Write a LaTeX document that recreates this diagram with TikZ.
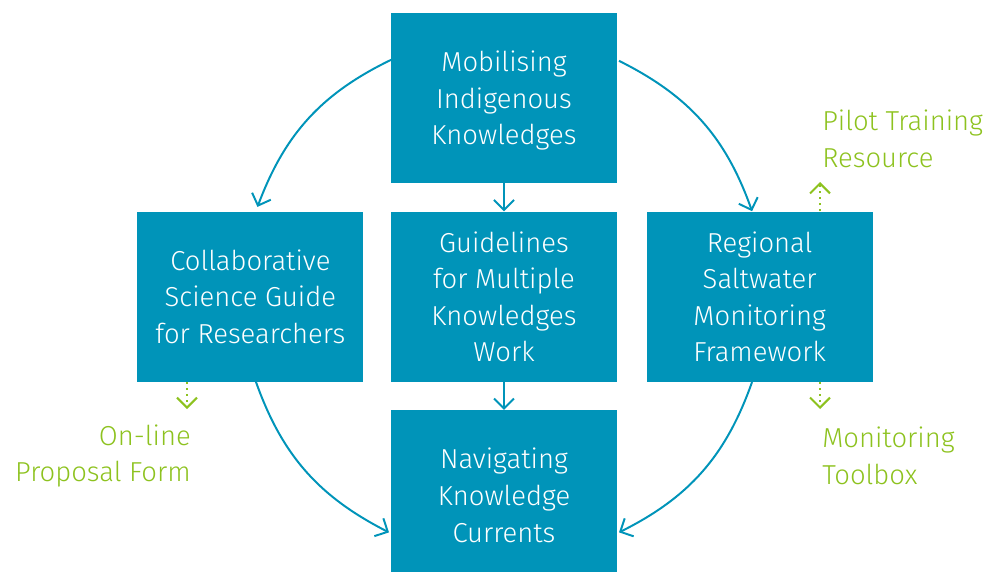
\documentclass[tikz,border=0pt]{standalone}
\usepackage{fontspec}
\setmainfont{Fira Sans}[UprightFont={* Light}]
\usetikzlibrary{arrows.meta, positioning, calc}
\definecolor{OceanTeal}{RGB}{0, 148, 185}
\definecolor{LimeLeaf}{RGB}{141, 194, 31}

\begin{document}
\begin{tikzpicture}[
    x=0.025cm, y=-0.025cm,
    stage/.style={rectangle, fill=OceanTeal, text=white, minimum width=5.65cm, minimum height=4.25cm, inner sep=0pt, align=center, text depth=-10pt, font=\fontsize{19.5}{26}\selectfont},
    output/.style={text=LimeLeaf, inner sep=0pt, font=\fontsize{19.5}{26}\selectfont},
    flow/.style={-{Straight Barb[length=2.5mm, width=5mm]}, OceanTeal, line width=1.4pt},
    spinoff/.style={-{Straight Barb[length=2.5mm, width=5mm]}, LimeLeaf, line width=1.4pt, dash pattern=on 1.4pt off 3pt}
]
\useasboundingbox (0,0) rectangle (994,572);

% Knowledge stages
\node[stage] (top) at (504,98) {Mobilising\\Indigenous\\Knowledges};
\node[stage, below=0.7cm of top] (mid) {Guidelines\\for Multiple\\Knowledges\\Work};
\node[stage, left=0.675cm of mid] (left) {Collaborative\\Science Guide\\for Researchers};
\node[stage, right=0.725cm of mid] (right) {Regional\\Saltwater\\Monitoring\\Framework};
\node[stage, below=0.7cm of mid] (bot) {Navigating\\Knowledge\\Currents};

% Ring the curved arrows sit on
\node[circle, minimum size=13.1cm, inner sep=0pt] (ring) at (mid) {};

% Flow between stages
\draw[flow] (top) -- (mid);
\draw[flow] (mid) -- (bot);
\draw[flow] (ring.115.5) to[bend right=22] (ring.160.3);
\draw[flow] (ring.64.1) to[bend left=22] (ring.19.7);
\draw[flow] (ring.198.9) to[bend right=22] (ring.244.1);
\draw[flow] (ring.341.1) to[bend left=22] (ring.296.3);

% Outputs
\node[output, align=left, anchor=west] (pilot) at (822,139) {Pilot Training\\Resource};
\node[output, align=right, anchor=east] (form) at (191,456) {On-line\\Proposal Form};
\node[output, align=left, anchor=west] (toolbox) at (822,456) {Monitoring\\Toolbox};

\coordinate (pilottip) at (820,182);
\coordinate (formtip) at (187,409);
\coordinate (toolboxtip) at (820,409);
\draw[spinoff] (right.north -| pilottip) -- (pilottip);
\draw[spinoff] (left.south -| formtip) -- (formtip);
\draw[spinoff] (right.south -| toolboxtip) -- (toolboxtip);

\end{tikzpicture}
\end{document}
